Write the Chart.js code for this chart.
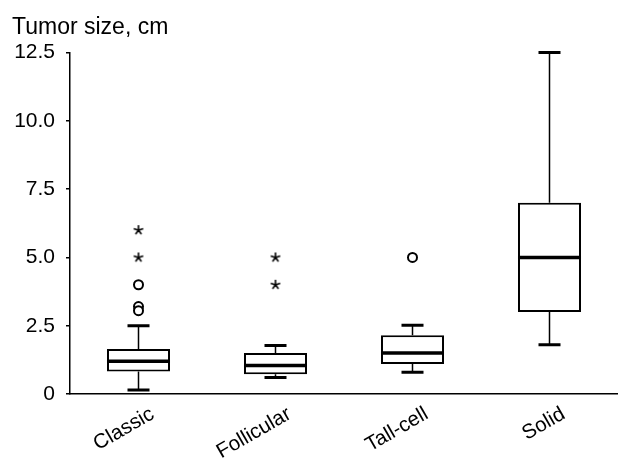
<!DOCTYPE html>
<html>
<head>
<meta charset="utf-8">
<script src="https://cdn.jsdelivr.net/npm/chart.js@4.4.0/dist/chart.umd.min.js"></script>
<style>
  html, body { margin: 0; padding: 0; background: #fff; }
</style>
</head>
<body>
<canvas id="tumorChart" width="618" height="458"></canvas>
<script>
// box plot summary (cm)
const categories = ['Classic', 'Follicular', 'Tall-cell', 'Solid'];
const whiskerLow = [0.15, 0.6, 0.8, 1.8];
const q1 = [0.82, 0.72, 1.1, 3.0];
const medians = [1.2, 1.04, 1.5, 5.0];
const q3 = [1.65, 1.5, 2.15, 7.0];
const whiskerHigh = [2.5, 1.78, 2.52, 12.5];

// outliers: o = circles, * = extremes
const circleOutliers = [
  { x: 'Classic', y: 4.0 },
  { x: 'Classic', y: 3.2 },
  { x: 'Classic', y: 3.05 },
  { x: 'Tall-cell', y: 5.0 },
];
const starOutliers = [
  { x: 'Classic', y: 6.0 },
  { x: 'Classic', y: 5.0 },
  { x: 'Follicular', y: 5.0 },
  { x: 'Follicular', y: 4.0 },
];

const yTicks = [0, 2.5, 5, 7.5, 10, 12.5];

Chart.defaults.font.family = "'Liberation Sans', Arial, sans-serif";
Chart.defaults.color = '#000';

// small asterisk used as point style
function makeAsterisk() {
  const c = document.createElement('canvas');
  c.width = 12;
  c.height = 12;
  const g = c.getContext('2d');
  g.strokeStyle = '#000';
  g.lineWidth = 1.6;
  g.beginPath();
  for (let k = 0; k < 5; k++) {
    const a = (-90 + k * 72) * Math.PI / 180;
    g.moveTo(6, 6);
    g.lineTo(6 + 5 * Math.cos(a), 6 + 5 * Math.sin(a));
  }
  g.stroke();
  return c;
}

// whiskers, caps and median lines on top of the floating bars
const boxParts = {
  id: 'boxParts',
  afterDatasetsDraw(chart) {
    const { ctx } = chart;
    const x = chart.scales.x;
    const y = chart.scales.y;
    const bars = chart.getDatasetMeta(0).data;
    ctx.save();
    ctx.strokeStyle = '#000';
    categories.forEach((c, i) => {
      const cx = x.getPixelForValue(i);
      const half = bars[i].width / 2;
      const capHalf = 11;

      ctx.lineWidth = 1.5;
      ctx.beginPath();
      ctx.moveTo(cx, y.getPixelForValue(q3[i]));
      ctx.lineTo(cx, y.getPixelForValue(whiskerHigh[i]));
      ctx.moveTo(cx, y.getPixelForValue(q1[i]));
      ctx.lineTo(cx, y.getPixelForValue(whiskerLow[i]));
      ctx.stroke();

      ctx.lineWidth = 3;
      ctx.beginPath();
      [whiskerHigh[i], whiskerLow[i]].forEach(v => {
        const py = y.getPixelForValue(v);
        ctx.moveTo(cx - capHalf, py);
        ctx.lineTo(cx + capHalf, py);
      });
      ctx.stroke();

      ctx.lineWidth = 3.5;
      ctx.beginPath();
      const my = y.getPixelForValue(medians[i]);
      ctx.moveTo(cx - half, my);
      ctx.lineTo(cx + half, my);
      ctx.stroke();
    });
    ctx.restore();
  }
};

const ctx = document.getElementById('tumorChart').getContext('2d');
new Chart(ctx, {
  type: 'bar',
  data: {
    labels: categories,
    datasets: [
      {
        label: 'IQR',
        data: categories.map((c, i) => [q1[i], q3[i]]),
        backgroundColor: '#fff',
        borderColor: '#000',
        borderWidth: 2,
        borderSkipped: false,
        barPercentage: 0.46,
        categoryPercentage: 1,
      },
      {
        type: 'line',
        label: 'outliers',
        data: circleOutliers,
        showLine: false,
        pointStyle: 'circle',
        pointRadius: 4.5,
        pointBorderWidth: 2,
        pointBackgroundColor: '#fff',
        pointBorderColor: '#000',
      },
      {
        type: 'line',
        label: 'extremes',
        data: starOutliers,
        showLine: false,
        pointStyle: makeAsterisk(),
      },
    ],
  },
  options: {
    responsive: false,
    animation: false,
    layout: { autoPadding: false, padding: { left: 12, right: 0, top: 0, bottom: 0 } },
    plugins: {
      legend: { display: false },
      tooltip: { enabled: false },
      title: {
        display: true,
        text: 'Tumor size, cm',
        align: 'start',
        color: '#000',
        font: { size: 23, weight: 'normal' },
        padding: { top: 14, bottom: 11 },
      },
    },
    scales: {
      x: {
        type: 'category',
        offset: true,
        afterFit(scale) {
          scale.height = 64;
          scale.paddingLeft = 0;
          scale.paddingRight = 0;
        },
        ticks: {
          minRotation: 30,
          maxRotation: 30,
          autoSkip: false,
          padding: 8,
          labelOffset: 14,
          color: '#000',
          font: { size: 20.5 },
        },
        grid: { display: false, drawTicks: false },
        border: { display: true, color: '#000', width: 1.5 },
      },
      y: {
        min: 0,
        max: 12.5,
        afterBuildTicks(scale) {
          scale.ticks = yTicks.map(v => ({ value: v }));
        },
        afterFit(scale) {
          scale.width = 58;
        },
        ticks: {
          padding: 11,
          color: '#000',
          font: { size: 21 },
          callback: v => (v === 0 ? '0' : v.toFixed(1)),
        },
        grid: { drawOnChartArea: false, tickLength: 4, color: '#000', lineWidth: 1.5 },
        border: { color: '#000', width: 1.5 },
      },
    },
  },
  plugins: [boxParts],
});
</script>
</body>
</html>
